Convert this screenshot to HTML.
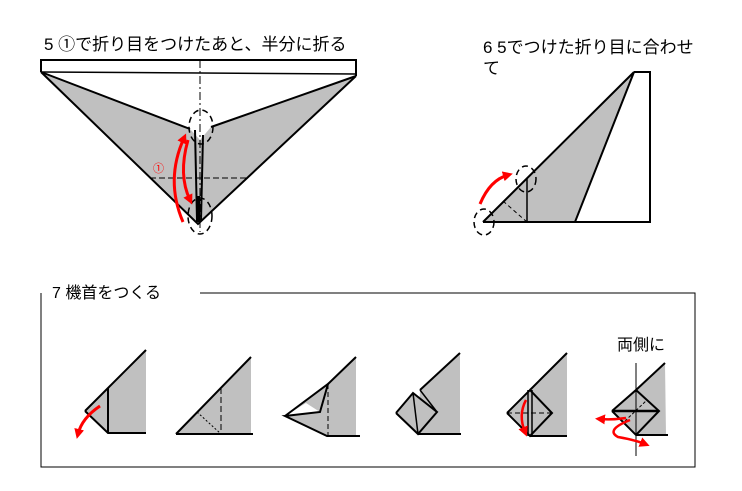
<!DOCTYPE html>
<html><head><meta charset="utf-8"><style>
body{margin:0;background:#fff;}
svg{display:block;}
text{font-family:"Liberation Sans","Noto Sans CJK JP",sans-serif;}
</style></head><body>
<svg width="742" height="491" viewBox="0 0 742 491" xmlns="http://www.w3.org/2000/svg">
<defs><marker id="ah" markerUnits="userSpaceOnUse" markerWidth="10" markerHeight="10" refX="5" refY="5" orient="auto"><path d="M0,0 L10,5 L0,10 z" fill="#f00"/></marker></defs>
<!-- Step 5 -->
<text x="44" y="50" font-size="17">5 ①で折り目をつけたあと、半分に折る</text>
<polygon points="41,72 190,129 200,140 211,127 356,76 198,224" fill="#c0c0c0"/>
<polyline points="41,72 41,60 356,60 356,76" fill="none" stroke="#000" stroke-width="2"/>
<line x1="41" y1="72" x2="356" y2="74" stroke="#000" stroke-width="1.5"/>
<polyline points="41,72 190,129" fill="none" stroke="#000" stroke-width="2"/>
<polyline points="211,127 356,76" fill="none" stroke="#000" stroke-width="2"/>
<polyline points="41,72 198,224 356,76" fill="none" stroke="#000" stroke-width="2"/>
<line x1="200" y1="60" x2="200" y2="232" stroke="#000" stroke-width="1" stroke-dasharray="8,3,2,3"/>
<line x1="150" y1="178" x2="246" y2="178" stroke="#000" stroke-width="1" stroke-dasharray="6,3"/>
<path d="M195,130 L197,220 M203,135 L201,220" stroke="#000" stroke-width="2" fill="none"/>
<path d="M198,196 L198,222" stroke="#000" stroke-width="4"/>
<ellipse cx="201" cy="127" rx="12" ry="17" fill="none" stroke="#000" stroke-width="1.5" stroke-dasharray="6,4"/>
<ellipse cx="200" cy="216" rx="12" ry="18" fill="none" stroke="#000" stroke-width="1.5" stroke-dasharray="6,4"/>
<path d="M183,222 Q165,180 184,138" stroke="#f00" stroke-width="3" fill="none" marker-end="url(#ah)"/>
<path d="M188,140 Q178,175 190,200" stroke="#f00" stroke-width="3" fill="none" marker-end="url(#ah)"/>
<text x="153" y="172" font-size="11" fill="#f00">①</text>
<!-- Step 6 -->
<text x="483" y="53" font-size="17">6 5でつけた折り目に合わせ</text>
<text x="483" y="74" font-size="17">て</text>
<polygon points="483,222 634,72 575,222" fill="#c0c0c0"/>
<polyline points="483,222 634,72 575,222" fill="none" stroke="#000" stroke-width="2"/>
<polyline points="634,72 650,72 650,222 483,222" fill="none" stroke="#000" stroke-width="2"/>
<line x1="527" y1="178" x2="527" y2="222" stroke="#000" stroke-width="1.5"/>
<line x1="503" y1="201" x2="527" y2="222" stroke="#000" stroke-width="1" stroke-dasharray="4,3"/>
<ellipse cx="526" cy="179" rx="10" ry="13" fill="none" stroke="#000" stroke-width="1.5" stroke-dasharray="6,4"/>
<ellipse cx="484" cy="222" rx="10" ry="13" fill="none" stroke="#000" stroke-width="1.5" stroke-dasharray="6,4"/>
<path d="M480,204 Q490,180 508,175" stroke="#f00" stroke-width="3" fill="none" marker-end="url(#ah)"/>
<!-- Step 7 box -->
<polyline points="200,293 695,293 695,467 41,467 41,293" fill="none" stroke="#000" stroke-width="1"/>
<text x="52" y="298" font-size="16">7 機首をつくる</text>
<!-- fig1 -->
<polygon points="85,411 146,350 146,433 108,433" fill="#c0c0c0"/>
<polyline points="85,411 146,350" stroke="#000" stroke-width="2" fill="none"/>
<polyline points="85,411 108,433 146,433" stroke="#000" stroke-width="2" fill="none"/>
<line x1="108" y1="388" x2="108" y2="433" stroke="#000" stroke-width="2"/>
<path d="M100,406 Q82,418 78,434" stroke="#f00" stroke-width="3" fill="none" marker-end="url(#ah)"/>
<!-- fig2 -->
<polygon points="176,434 251,357 251,434" fill="#c0c0c0"/>
<polyline points="176,434 251,357" stroke="#000" stroke-width="2" fill="none"/>
<line x1="176" y1="434" x2="253" y2="434" stroke="#000" stroke-width="2"/>
<line x1="221" y1="388" x2="221" y2="434" stroke="#000" stroke-width="1" stroke-dasharray="6,3"/>
<line x1="197" y1="412" x2="221" y2="434" stroke="#000" stroke-width="1" stroke-dasharray="2,2"/>
<!-- fig3 -->
<polygon points="328,384 356,357 356,436 327,436 285,416" fill="#c0c0c0"/>
<polygon points="285,416 306,403 320,412" fill="#fff"/>
<polyline points="328,384 356,357" stroke="#000" stroke-width="2" fill="none"/>
<polyline points="285,416 328,384 320,412 285,416 327,436 360,436" stroke="#000" stroke-width="2" fill="none"/>
<line x1="328" y1="384" x2="328" y2="436" stroke="#000" stroke-width="1" stroke-dasharray="5,3"/>
<!-- fig4 -->
<polygon points="420,390 460,353 460,434 418,434" fill="#c0c0c0"/>
<polygon points="396,413 413,393 437,412 418,434" fill="#c0c0c0"/>
<polygon points="420,390 437,412 426,398" fill="#fff"/>
<polyline points="420,390 460,353" stroke="#000" stroke-width="2" fill="none"/>
<polyline points="396,413 413,393 437,412 418,434 396,413" stroke="#000" stroke-width="2" fill="none"/>
<polyline points="418,434 461,434" stroke="#000" stroke-width="2" fill="none"/>
<line x1="413" y1="393" x2="418" y2="434" stroke="#000" stroke-width="1.5"/>
<line x1="420" y1="390" x2="437" y2="412" stroke="#000" stroke-width="1.5"/>
<!-- fig5 -->
<polygon points="507,413 530,390 567,353 567,436 530,436" fill="#c0c0c0"/>
<polyline points="530,390 567,353" stroke="#000" stroke-width="2" fill="none"/>
<polyline points="507,413 530,390 552,413 530,436 507,413" stroke="#000" stroke-width="2" fill="none"/>
<line x1="530" y1="436" x2="567" y2="436" stroke="#000" stroke-width="2"/>
<line x1="528" y1="390" x2="528" y2="436" stroke="#000" stroke-width="1.5"/>
<line x1="532" y1="390" x2="532" y2="436" stroke="#000" stroke-width="1.5"/>
<line x1="507" y1="413" x2="552" y2="413" stroke="#000" stroke-width="1" stroke-dasharray="5,3"/>
<path d="M526,400 Q518,415 525,432" stroke="#f00" stroke-width="2.5" fill="none" marker-end="url(#ah)"/>
<!-- fig6 -->
<text x="617" y="350" font-size="16">両側に</text>
<polygon points="612,411 636,390 665,363 666,435 636,435" fill="#c0c0c0"/>
<polyline points="636,390 665,363" stroke="#000" stroke-width="2" fill="none"/>
<polyline points="612,411 636,390 659,411 636,435 612,411" stroke="#000" stroke-width="2" fill="none"/>
<line x1="612" y1="411" x2="659" y2="411" stroke="#000" stroke-width="2.5"/>
<line x1="636" y1="435" x2="668" y2="435" stroke="#000" stroke-width="2"/>
<line x1="636" y1="363" x2="636" y2="456" stroke="#000" stroke-width="1"/>
<line x1="625" y1="421" x2="647" y2="400" stroke="#000" stroke-width="1" stroke-dasharray="3,2"/>
<path d="M626,418 Q612,420 600,419" stroke="#f00" stroke-width="2.5" fill="none" marker-end="url(#ah)"/>
<path d="M630,420 Q605,430 618,437 Q635,440 645,444" stroke="#f00" stroke-width="2.5" fill="none" marker-end="url(#ah)"/>
</svg>
</body></html>
